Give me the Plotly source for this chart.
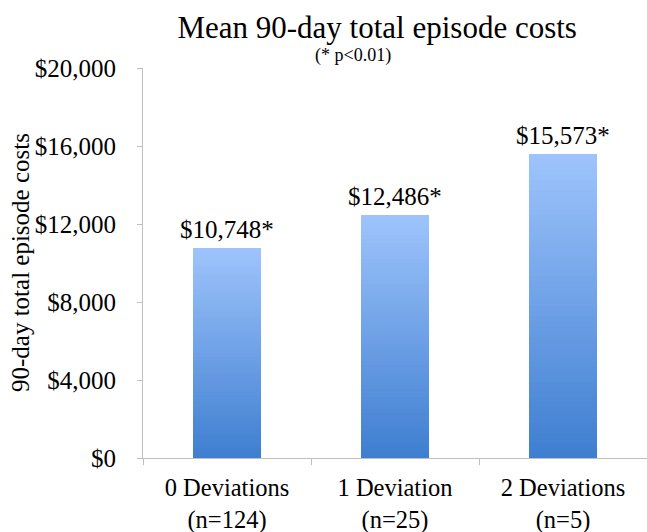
import plotly.graph_objects as go

categories = ["0 Deviations<br>(n=124)", "1 Deviation<br>(n=25)", "2 Deviations<br>(n=5)"]
values = [10748, 12486, 15573]
value_labels = ["$10,748*", "$12,486*", "$15,573*"]
tick_vals = [0, 4000, 8000, 12000, 16000, 20000]
tick_text = ["$0", "$4,000", "$8,000", "$12,000", "$16,000", "$20,000"]

FONT = "Times New Roman"
dark = (62, 126, 208)
light = (158, 196, 252)
N = 60

fig = go.Figure()
for k in range(N):
    t = (k + 0.5) / N
    c = tuple(int(round(dark[i] + (light[i] - dark[i]) * t)) for i in range(3))
    col = "rgb(%d,%d,%d)" % c
    fig.add_trace(go.Bar(
        x=categories, y=[v / N for v in values],
        marker=dict(color=col, line=dict(width=0)),
        hoverinfo="skip", showlegend=False,
    ))

annotations = [
    dict(text="(* p<0.01)", xref="paper", yref="paper", x=0.417, y=1.033,
         xanchor="center", yanchor="middle", showarrow=False,
         font=dict(family=FONT, size=18, color="black")),
    dict(text="90-day total episode costs", xref="paper", yref="paper",
         x=-0.244, y=0.5, xanchor="center", yanchor="middle", textangle=-90,
         showarrow=False, font=dict(family=FONT, size=25, color="black")),
]
for cat, v, lab in zip(categories, values, value_labels):
    annotations.append(dict(text=lab, x=cat, y=v, xref="x", yref="y",
                            xanchor="center", yanchor="bottom", yshift=3,
                            showarrow=False, font=dict(family=FONT, size=25, color="black")))

fig.update_layout(
    width=647, height=532,
    barmode="stack", bargap=0.6,
    paper_bgcolor="white", plot_bgcolor="white",
    margin=dict(l=143, r=0, t=68, b=74, autoexpand=False),
    font=dict(family=FONT, size=25, color="black"),
    title=dict(text="Mean 90-day total episode costs", x=0.583, xanchor="center",
               y=0.949, yanchor="middle", font=dict(family=FONT, size=31, color="black")),
    annotations=annotations,
    xaxis=dict(
        showline=True, linecolor="#bfbfbf", linewidth=1, automargin=False,
        ticks="outside", tickson="boundaries", ticklen=6, tickcolor="#bfbfbf",
        tickfont=dict(family=FONT, size=24.5, color="black"),
        showgrid=False, zeroline=False, ticklabelstandoff=8,
    ),
    yaxis=dict(
        range=[0, 20000], tickvals=tick_vals, ticktext=tick_text, automargin=False,
        showline=True, linecolor="#bfbfbf", linewidth=1,
        ticks="outside", ticklen=5, tickcolor="#bfbfbf",
        tickfont=dict(family=FONT, size=25, color="black"),
        showgrid=False, zeroline=False, ticklabelstandoff=16,
    ),
)

fig.write_html("out.html", config={"displayModeBar": False},
               post_script="document.body.style.margin='0';document.body.style.padding='0';")
